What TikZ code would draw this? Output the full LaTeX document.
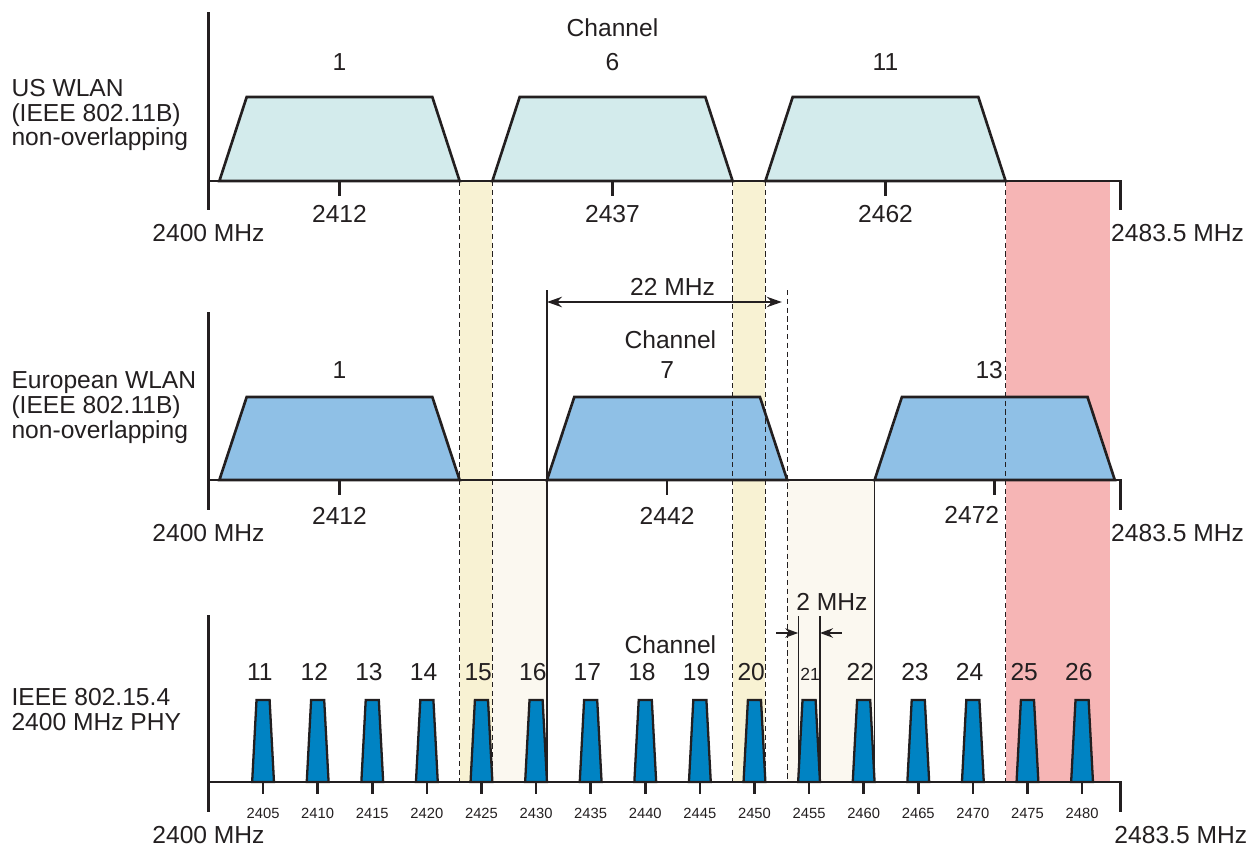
\documentclass[tikz,border=0pt]{standalone}
\usepackage{fontspec}
\setmainfont{Liberation Sans}
\usetikzlibrary{arrows.meta}
\definecolor{bandInk}{HTML}{231F20}
\definecolor{bandUS}{HTML}{D3EBEC}
\definecolor{bandEU}{HTML}{8FC0E6}
\definecolor{bandZB}{HTML}{0083C3}
\definecolor{bandYellow}{HTML}{F8F2D3}
\definecolor{bandBeige}{HTML}{FBF8F0}
\definecolor{bandRed}{HTML}{F6B5B5}
\tikzset{
  every picture/.style={font=\fontsize{14}{14.2}\selectfont, text=bandInk},
  band axis/.style={draw=bandInk, line width=1.7pt},
  band tick/.style={draw=bandInk, line width=1.5pt},
  band us/.style={draw=bandInk, fill=bandUS, line width=1.5pt},
  band eu/.style={draw=bandInk, fill=bandEU, line width=1.5pt},
  band zb/.style={draw=bandInk, fill=bandZB, line width=1.3pt},
  band guide/.style={draw=bandInk, line width=0.6pt, densely dashed},
  band edge/.style={draw=bandInk, line width=0.6pt},
  band arrow/.style={-{Stealth[length=2.6mm,width=1.9mm]},
    draw=bandInk, line width=0.8pt},
  band dim/.style={{Stealth[length=3mm,width=2.1mm]}-{Stealth[length=3mm,width=2.1mm]},
    draw=bandInk, line width=0.8pt},
  band small/.style={font=\fontsize{8.4}{10}\selectfont},
  band label/.style={align=left, anchor=west}
}
\begin{document}
\begin{tikzpicture}[x=2.184mm,y=-0.2mm]
  \useasboundingbox (-19.09,0) rectangle (95.47,848);
  \fill[bandYellow] (23,181) rectangle (26,782);
  \fill[bandYellow] (48,181) rectangle (51,782);
  \fill[bandRed] (73,181) rectangle (82.6,782);
  \fill[bandBeige] (26,480) rectangle (31,782);
  \fill[bandBeige] (53,480) rectangle (61,782);
  % US WLAN
  \begin{scope}[shift={(0,181)}]
    \foreach \c in {12,37,62}
      \draw[band us] (\c-11,0) -- (\c-8.5,-84) -- (\c+8.5,-84) -- (\c+11,0) -- cycle;
    \draw[band axis] (0,-169) -- (0,29);
    \draw[band axis] (0,0) -- (83.5,0) -- (83.5,29);
    \foreach \c in {12,37,62} {
      \draw[band tick] (\c,0) -- (\c,15);
      \pgfmathtruncatemacro{\mhz}{2400+\c}
      \node (us f\c) at (\c,33) {\mhz};
    }
    \node (us chan) at (37,-153) {Channel};
    \node (us ch1) at (12,-119) {1};
    \node (us ch6) at (37,-119) {6};
    \node (us ch11) at (62,-119) {11};
    \node (us lo) at (0,52) {2400 MHz};
    \node[anchor=west] (us hi) at (82.1,52) {2483.5 MHz};
    \node[band label] (us name) at (-18.6,-66) {US WLAN\\(IEEE 802.11B)\\non-overlapping};
  \end{scope}
  % European WLAN
  \begin{scope}[shift={(0,480)}]
    \foreach \c in {12,42,72}
      \draw[band eu] (\c-11,0) -- (\c-8.5,-83) -- (\c+8.5,-83) -- (\c+11,0) -- cycle;
    \draw[band axis] (0,-168) -- (0,30);
    \draw[band axis] (0,0) -- (83.5,0) -- (83.5,30);
    \foreach \c in {12,42,72}
      \draw[band tick] (\c,0) -- (\c,15);
    \node (eu f12) at (12,36) {2412};
    \node (eu f42) at (42,36) {2442};
    \node (eu f72) at (69.9,35) {2472};
    \node (eu chan) at (42.3,-140) {Channel};
    \node (eu ch1) at (12,-110) {1};
    \node (eu ch7) at (42,-110) {7};
    \node (eu ch13) at (71.5,-110) {13};
    \node (eu lo) at (0,53) {2400 MHz};
    \node[anchor=west] (eu hi) at (82.1,53) {2483.5 MHz};
    \node[band label] (eu name) at (-18.6,-72) {European WLAN\\(IEEE 802.11B)\\non-overlapping};
  \end{scope}
  % IEEE 802.15.4
  \begin{scope}[shift={(0,782)}]
    \foreach \n in {11,...,26} {
      \pgfmathtruncatemacro{\f}{5*(\n-10)}
      \pgfmathtruncatemacro{\mhz}{2400+\f}
      \draw[band zb] (\f-1,0) -- (\f-0.6,-82) -- (\f+0.6,-82) -- (\f+1,0) -- cycle;
      \draw[band tick] (\f,0) -- (\f,12);
      \node[band small] (zb f\n) at (\f,31) {\mhz};
    }
    \foreach \n in {11,12,13,14,15,16,17,18,19,20,22,23,24,25,26} {
      \pgfmathsetmacro{\f}{5*(\n-10)-0.3}
      \node (zb ch\n) at (\f,-110) {\n};
    }
    \node[font=\fontsize{10}{10}\selectfont] (zb ch21) at (55.1,-108) {21};
    \draw[band axis] (0,-167) -- (0,30);
    \draw[band axis] (0,0) -- (83.5,0) -- (83.5,30);
    \node (zb chan) at (42.3,-137) {Channel};
    \node (zb lo) at (0,53) {2400 MHz};
    \node[anchor=west] (zb hi) at (82.4,53) {2483.5 MHz};
    \node[band label] (zb name) at (-18.6,-72.5) {IEEE 802.15.4\\2400 MHz PHY};
  \end{scope}
  \foreach \f in {23,26,48,51,53,73}
    \draw[band guide] (\f,{\f==53 ? 290 : 181}) -- (\f,782);
  \draw[band edge] (31,290) -- (31,782);
  \draw[band edge] (61,480) -- (61,782);
  \draw[band edge] (54,616) -- (54,782);
  \draw[band edge] (56,616) -- (56,782);
  \coordinate (bw left) at (31,302);
  \coordinate (bw right) at (52.5,302);
  \draw[band dim] (bw left) -- (bw right);
  \node (bw label) at (42.5,287) {22 MHz};
  \coordinate (nb left tail) at (52,633);
  \coordinate (nb left tip) at (54,633);
  \coordinate (nb right tail) at (58,633);
  \coordinate (nb right tip) at (56,633);
  \draw[band arrow] (nb left tail) -- (nb left tip);
  \draw[band arrow] (nb right tail) -- (nb right tip);
  \node (nb label) at (57.1,602) {2 MHz};
\end{tikzpicture}
\end{document}
